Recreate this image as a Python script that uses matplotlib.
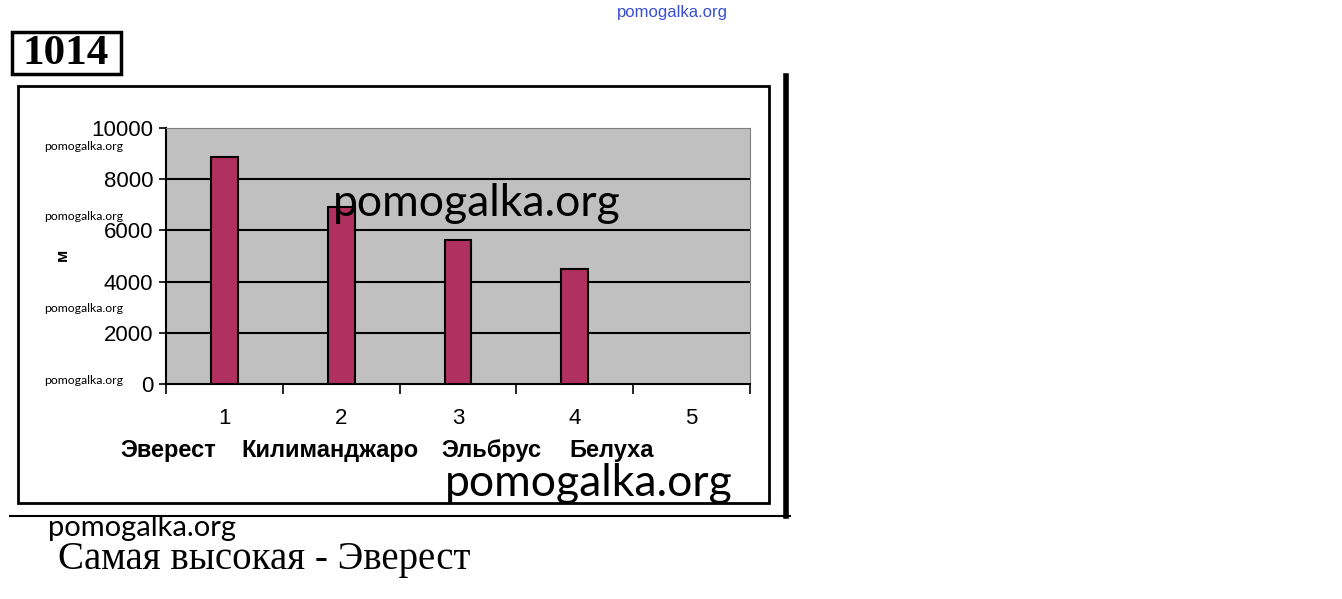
import matplotlib.pyplot as plt
from matplotlib.patches import Rectangle
from matplotlib.lines import Line2D

# данные диаграммы
categories = ["1", "2", "3", "4", "5"]
mountains = ["Эверест", "Килиманджаро", "Эльбрус", "Белуха"]
heights = [8850, 6900, 5640, 4510]
y_ticks = [0, 2000, 4000, 6000, 8000, 10000]

W, H = 1342, 599


def fx(px):
    return px / W


def fy(py):
    return 1 - py / H


fig = plt.figure(figsize=(W / 100, H / 100), dpi=100)
fig.patch.set_facecolor("white")

# --------------------------
# оси с диаграммой
# --------------------------
ax = fig.add_axes([fx(166), fy(384), fx(750) - fx(166), fy(128) - fy(384)])
ax.set_facecolor("#c0c0c0")
x_pos = list(range(len(categories)))
ax.bar(x_pos[:len(heights)], heights, width=0.23, color="#b03060",
       edgecolor="black", linewidth=1.5, zorder=3)
ax.set_xlim(-0.5, len(categories) - 0.5)
ax.set_ylim(0, 10000)
ax.set_yticks(y_ticks)
ax.set_yticklabels([str(v) for v in y_ticks])
for v in y_ticks[1:-1]:
    ax.axhline(v, color="black", linewidth=1.5, zorder=1)

ax.set_xticks([i - 0.5 for i in range(len(categories) + 1)])
ax.set_xticklabels([])
ax.set_xticks(x_pos, minor=True)
ax.set_xticklabels(categories, minor=True)
ax.tick_params(axis="x", which="major", length=7, width=1.2, direction="out")
ax.tick_params(axis="x", which="minor", length=0, pad=17, labelsize=16)
ax.tick_params(axis="y", length=5, width=1.2, direction="out", pad=4, labelsize=16)
for lab in ax.get_xticklabels(minor=True) + ax.get_yticklabels():
    lab.set_family(["Liberation Sans Narrow", "Liberation Sans"])

ax.spines["top"].set_color("#808080")
ax.spines["right"].set_color("#808080")
ax.spines["left"].set_linewidth(1.5)
ax.spines["bottom"].set_linewidth(1.5)

fig.text(fx(62), fy(255), "м", rotation=90, ha="center", va="center",
         fontsize=12, fontweight="bold", family="Liberation Sans")

name_x = [168, 330, 491, 612]
for name, px in zip(mountains, name_x):
    fig.text(fx(px), fy(451), name, ha="center", va="center", fontsize=17,
             fontweight="bold", family=["Liberation Sans Narrow", "Liberation Sans"])

# --------------------------
# рамки и линии
# --------------------------
fig.add_artist(Rectangle((fx(18), fy(503)), fx(769) - fx(18), fy(86) - fy(503),
                         fill=False, linewidth=2, edgecolor="black",
                         transform=fig.transFigure))
fig.add_artist(Line2D([fx(786), fx(786)], [fy(76), fy(516)], color="black",
                      linewidth=4, transform=fig.transFigure))
fig.add_artist(Line2D([fx(10), fx(790)], [fy(516), fy(516)], color="black",
                      linewidth=1.5, transform=fig.transFigure))
fig.add_artist(Rectangle((fx(12), fy(74)), fx(121) - fx(12), fy(32) - fy(74),
                         fill=False, linewidth=2.5, edgecolor="black",
                         transform=fig.transFigure))
fig.text(fx(66), fy(54), "1014", ha="center", va="center", fontsize=31,
         fontweight="bold", family="Liberation Serif")

fig.text(fx(58), fy(560), "Самая высокая - Эверест", ha="left", va="center",
         fontsize=28, family="Liberation Serif")

# --------------------------
# водяные знаки
# --------------------------
wm = "pomogalka.org"
fig.text(fx(672), fy(12), wm, ha="center", va="center", fontsize=12,
         color="#3a4fd0", family="Liberation Sans")
for py in [146, 216, 308, 380]:
    fig.text(fx(44), fy(py), wm, ha="left", va="center", fontsize=8.8,
             family="Lato")
fig.text(fx(333), fy(203), wm, ha="left", va="center", fontsize=32, family="Lato")
fig.text(fx(445), fy(484), wm, ha="left", va="center", fontsize=32, family="Lato")
fig.text(fx(48), fy(528), wm, ha="left", va="center", fontsize=21, family="Lato")

fig.savefig("out.png", dpi=100)
